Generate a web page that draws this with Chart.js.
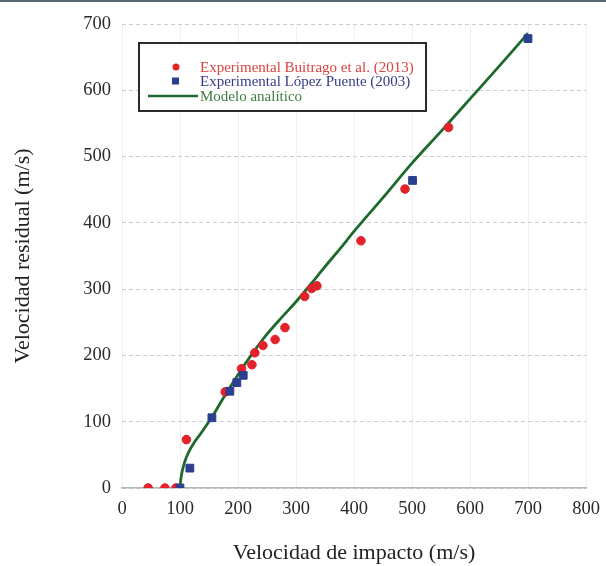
<!DOCTYPE html>
<html>
<head>
<meta charset="utf-8">
<script src="https://cdn.jsdelivr.net/npm/chart.js@4"></script>
<style>
  html, body { margin: 0; padding: 0; background: #fff; }
  .frame { width: 606px; height: 566px; position: relative; }
  .frame::before { content: ''; position: absolute; left: 0; top: 0; width: 606px; height: 2px; background: #5b6a70; }
  canvas { display: block; }
</style>
</head>
<body>
<div class="frame">
  <canvas id="chart" width="606" height="566"></canvas>
</div>
<script>
// Experimental Buitrago et al. (2013)
const buitragoX = [45, 74, 93, 111, 178, 206, 224, 229, 243, 264, 281, 315, 327, 336, 412, 488, 563];
const buitragoY = [0, 0, 0, 73, 145, 180, 186, 204, 215, 224, 242, 289, 301, 305, 373, 451, 544];

// Experimental López Puente (2003)
const lopezX = [100, 117, 155, 186, 198, 209, 501, 700];
const lopezY = [0, 30, 106, 146, 159, 170, 464, 678];

// Modelo analítico
const modelX = [100, 101, 103, 106, 110, 116, 124, 134, 146, 160, 175, 200, 225, 250, 275, 300, 325, 350, 375, 400, 450, 500, 550, 600, 650, 700];
const modelY = [0, 10, 22, 33, 44, 56, 68, 80, 95, 114, 136, 171, 203, 232, 257, 281, 307, 334, 360, 387, 438, 490, 538, 587, 636, 686];

const xTicks = [0, 100, 200, 300, 400, 500, 600, 700, 800];
const yTicks = [0, 100, 200, 300, 400, 500, 600, 700];

const toPoints = (xs, ys) => xs.map((x, i) => ({ x: x, y: ys[i] }));

const serif = "'Liberation Serif', 'DejaVu Serif', serif";

// legend drawn as a boxed panel with coloured text
const boxLegend = {
  id: 'boxLegend',
  afterDraw(chart) {
    const ctx = chart.ctx;
    const left = 139, top = 43, w = 287, h = 68;
    ctx.save();
    ctx.fillStyle = '#fff';
    ctx.fillRect(left, top, w, h);
    ctx.strokeStyle = '#2b2b2b';
    ctx.lineWidth = 2;
    ctx.strokeRect(left, top, w, h);
    ctx.font = "15px " + serif;
    ctx.textBaseline = 'middle';
    const rows = [67, 81, 96];
    chart.data.datasets.forEach((ds, i) => {
      const y = rows[i];
      if (ds.showLine) {
        ctx.strokeStyle = ds.borderColor;
        ctx.lineWidth = 2.5;
        ctx.beginPath();
        ctx.moveTo(148, y);
        ctx.lineTo(198, y);
        ctx.stroke();
      } else if (ds.pointStyle === 'rect') {
        ctx.fillStyle = ds.backgroundColor;
        ctx.fillRect(172, y - 3.5, 7, 7);
      } else {
        ctx.fillStyle = ds.backgroundColor;
        ctx.beginPath();
        ctx.arc(176, y, 3.5, 0, Math.PI * 2);
        ctx.fill();
      }
      ctx.fillStyle = ds.legendText;
      ctx.fillText(ds.label, 200, y + 1);
    });
    ctx.restore();
  }
};

new Chart(document.getElementById('chart'), {
  type: 'scatter',
  data: {
    datasets: [
      {
        label: 'Experimental Buitrago et al. (2013)',
        data: toPoints(buitragoX, buitragoY),
        backgroundColor: '#e3222b',
        borderColor: '#e3222b',
        legendText: '#d9443f',
        pointStyle: 'circle',
        pointRadius: 4.3,
        order: 1
      },
      {
        label: 'Experimental López Puente (2003)',
        data: toPoints(lopezX, lopezY),
        backgroundColor: '#2b3f8e',
        borderColor: '#2b3f8e',
        legendText: '#333d8c',
        pointStyle: 'rect',
        pointRadius: 5.5,
        order: 0
      },
      {
        label: 'Modelo analítico',
        data: toPoints(modelX, modelY),
        showLine: true,
        borderColor: '#1d6a2c',
        backgroundColor: '#1d6a2c',
        legendText: '#3f7d3f',
        borderWidth: 2.8,
        pointRadius: 0,
        tension: 0.4,
        cubicInterpolationMode: 'monotone',
        order: 2
      }
    ]
  },
  options: {
    responsive: false,
    animation: false,
    layout: { padding: { left: 0, top: 24, right: 20, bottom: 0 } },
    plugins: {
      legend: { display: false },
      tooltip: { enabled: false }
    },
    scales: {
      x: {
        type: 'linear',
        min: 0,
        max: 800,
        afterBuildTicks: (scale) => { scale.ticks = xTicks.map(v => ({ value: v })); },
        afterFit: (scale) => {
          scale.height = 78;
          scale.paddingLeft = 0;
          scale.paddingRight = 0;
        },
        ticks: { color: '#2a2a2a', font: { family: serif, size: 18.5 }, padding: 10, maxRotation: 0 },
        grid: { color: '#f0f0f0', drawTicks: false },
        border: { color: '#b5b5b5', width: 1.5 },
        title: {
          display: true,
          text: 'Velocidad de impacto (m/s)',
          color: '#222',
          font: { family: serif, size: 22 },
          padding: { top: 14, bottom: 0 }
        }
      },
      y: {
        type: 'linear',
        min: 0,
        max: 700,
        afterBuildTicks: (scale) => { scale.ticks = yTicks.map(v => ({ value: v })); },
        afterFit: (scale) => {
          scale.width = 122;
          scale.paddingTop = 0;
          scale.paddingBottom = 0;
        },
        ticks: { color: '#2a2a2a', font: { family: serif, size: 18.5 }, padding: 11 },
        grid: { color: '#c9ccd4', drawTicks: false, lineWidth: 1 },
        border: { display: false, dash: [4, 3] },
        title: {
          display: true,
          text: 'Velocidad residual (m/s)',
          color: '#222',
          font: { family: serif, size: 22 },
          padding: { top: 10, bottom: 22 }
        }
      }
    }
  },
  plugins: [boxLegend]
});
</script>
</body>
</html>
